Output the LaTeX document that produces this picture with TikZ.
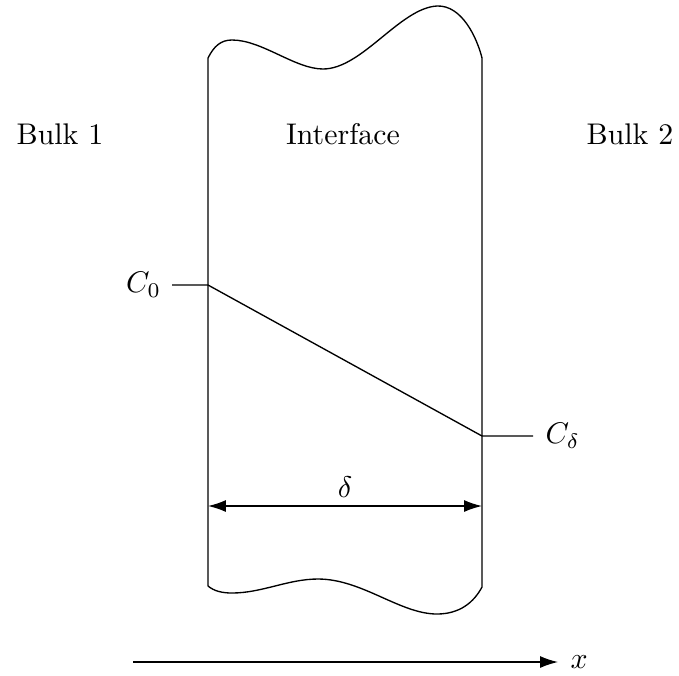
\documentclass[tikz,border=0pt]{standalone}
\usepackage{tikz}
\usetikzlibrary{arrows.meta,positioning}

\begin{document}
\begin{tikzpicture}[
  x=0.01176cm, y=-0.01176cm,
  node distance=1.5pt,
  wall/.style={line width=0.45pt},
  lbl/.style={inner sep=2pt},
  arr/.style={-{Latex[length=6pt,width=4pt]}, line width=0.45pt},
  darr/.style={{Latex[length=6pt,width=4pt]}-{Latex[length=6pt,width=4pt]}, line width=0.45pt},
]
  \useasboundingbox (0,0) rectangle (679,675);

  % Interface corners
  \coordinate (tl) at (208,58);
  \coordinate (tr) at (482,58);
  \coordinate (bl) at (208,586);
  \coordinate (br) at (482,587);

  % Interface outline
  \draw[wall] (bl) -- (tl)
    .. controls (214,46) and (221,40) .. (232,40)
    .. controls (262,40) and (295,69) .. (323,69)
    .. controls (362,69) and (400,8) .. (437,6)
    .. controls (462,5) and (477,38) .. (tr) -- (br)
    .. controls (474,602) and (460,614) .. (437,614)
    .. controls (400,614) and (362,579) .. (318,579)
    .. controls (288,579) and (262,593) .. (232,593)
    .. controls (222,593) and (214,591) .. (bl);

  % Labels
  \node[lbl] (bulk1) at (60,134) {Bulk 1};
  \node[lbl] (inter) at (343,134) {Interface};
  \node[lbl] (bulk2) at (630,134) {Bulk 2};

  % Concentration profile
  \coordinate (c0) at (208,285);
  \coordinate (cd) at (482,436);
  \coordinate (c0end) at (172,285);
  \coordinate (cdend) at (533,436);
  \node[lbl, left=of c0end] (c0lbl) {$C_0$};
  \node[lbl, right=2pt of cdend] (cdlbl) {$C_\delta$};
  \draw[wall] (c0end) -- (c0) -- (cd) -- (cdend);

  % Thickness
  \coordinate (dl) at (208,506);
  \coordinate (dr) at (482,506);
  \draw[darr] (dl) -- (dr);
  \node[lbl] (delta) at (345,487) {$\delta$};

  % Axis
  \coordinate (xs) at (133,662);
  \coordinate (xe) at (558,662);
  \draw[arr] (xs) -- (xe);
  \node[lbl, right=2pt of xe] (xlbl) {$x$};
\end{tikzpicture}
\end{document}
